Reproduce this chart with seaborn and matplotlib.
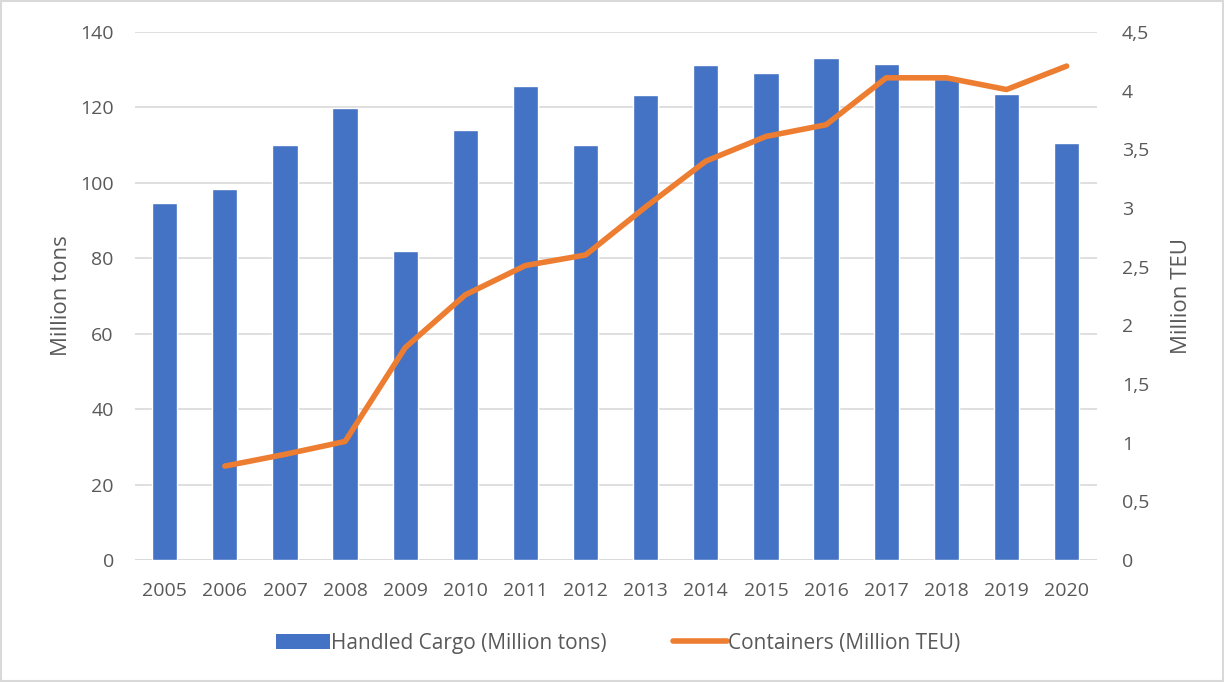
import numpy as np
import pandas as pd
import matplotlib
matplotlib.use("Agg")
import matplotlib.pyplot as plt
import seaborn as sns
from matplotlib.lines import Line2D
from matplotlib.patches import Patch
from matplotlib.ticker import FuncFormatter

years = ["2005", "2006", "2007", "2008", "2009", "2010", "2011", "2012",
         "2013", "2014", "2015", "2016", "2017", "2018", "2019", "2020"]
cargo_mt = [94.7, 98.4, 110.0, 119.9, 81.9, 114.0, 125.7, 110.0,
            123.3, 131.2, 129.1, 133.1, 131.5, 127.6, 123.6, 110.6]
containers_teu = [np.nan, 0.80, 0.90, 1.01, 1.81, 2.26, 2.51, 2.60,
                  3.01, 3.40, 3.61, 3.71, 4.11, 4.11, 4.01, 4.21]

BLUE = "#4472C4"
ORANGE = "#ED7D31"
TEXT = "#595959"
GRID = "#D9D9D9"

sns.set_theme(style="white")
plt.rcParams["font.family"] = ["Open Sans", "DejaVu Sans"]

df = pd.DataFrame({"year": years, "cargo": cargo_mt, "teu": containers_teu})
df["pos"] = np.arange(len(years))

fig = plt.figure(figsize=(12.24, 6.82), dpi=100)
ax = fig.add_axes([0.110, 0.179, 0.786, 0.774])

sns.barplot(data=df, x="year", y="cargo", color=BLUE, saturation=1,
            width=0.42, ax=ax, zorder=2)
ax.set_ylim(0, 140)
ax.set_yticks(np.arange(0, 141, 20))
ax.set_xlim(-0.5, len(years) - 0.5)
ax.yaxis.grid(True, color=GRID, linewidth=1.2, zorder=0)
ax.set_axisbelow(True)
for s in ax.spines.values():
    s.set_visible(False)
ax.axhline(0, color=GRID, linewidth=1.2, zorder=1)
ax.set_xlabel("")
ax.set_ylabel("Million tons", fontsize=16, color=TEXT, labelpad=6)
ax.tick_params(axis="x", length=0, labelsize=14, colors=TEXT, pad=16)
ax.tick_params(axis="y", length=0, labelsize=14, colors=TEXT, pad=15)

ax2 = ax.twinx()
sns.lineplot(data=df, x="pos", y="teu", color=ORANGE, linewidth=4,
             ax=ax2, zorder=3)
ax2.set_xlim(-0.5, len(years) - 0.5)
ax2.set_ylim(0, 4.5)
ax2.set_yticks(np.arange(0, 4.51, 0.5))
ax2.yaxis.set_major_formatter(FuncFormatter(
    lambda v, _: (f"{v:g}").replace(".", ",")))
for s in ax2.spines.values():
    s.set_visible(False)
ax2.set_ylabel("Million TEU", fontsize=16, color=TEXT, labelpad=16)
ax2.tick_params(axis="y", length=0, labelsize=14, colors=TEXT, pad=18)
ax2.set_xlabel("")

handles = [Patch(facecolor=BLUE, edgecolor="none"),
           Line2D([0], [0], color=ORANGE, linewidth=4)]
labels = ["Handled Cargo (Million tons)", "Containers (Million TEU)"]
fig.legend(handles, labels, loc="center", bbox_to_anchor=(0.505, 0.057),
           ncol=2, frameon=False, fontsize=15, labelcolor=TEXT,
           handlelength=2.6, handletextpad=0.05, columnspacing=3.2)

# light frame around the whole figure
fig.patches.append(plt.Rectangle((0.001, 0.001), 0.998, 0.997,
                                 transform=fig.transFigure, fill=False,
                                 edgecolor=GRID, linewidth=1.5))

fig.savefig("out.png", dpi=100)
